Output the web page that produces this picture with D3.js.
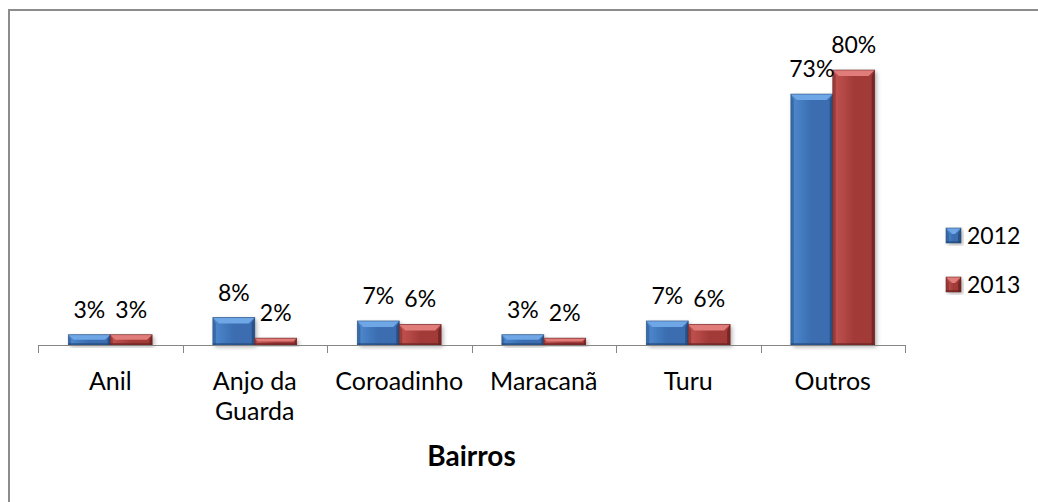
<!DOCTYPE html>
<html>
<head>
<meta charset="utf-8">
<script src="https://cdn.jsdelivr.net/npm/d3@7"></script>
<style>
  body { margin: 0; background: #fff; }
  text { font-family: Lato, "Open Sans", sans-serif; fill: #000; }
</style>
</head>
<body>
<script>
var bairros = ["Anil", "Anjo da Guarda", "Coroadinho", "Maracanã", "Turu", "Outros"];
var anos = ["2012", "2013"];
var valores2012 = [3, 8, 7, 3, 7, 73];
var valores2013 = [3, 2, 6, 2, 6, 80];

var width = 1038, height = 502;
var margin = { top: 70, left: 38, right: 905, bottom: 345 };

var data = bairros.map(function (b, i) {
    return { name: b, values: [valores2012[i], valores2013[i]] };
});

var svg = d3.select("body").append("svg")
    .attr("width", width)
    .attr("height", height);

var defs = svg.append("defs");
var colors = {
    "2012": { main: "#3a6db0", light: "#6fa6e6", dark: "#234a7d", top: "#4f8ad0" },
    "2013": { main: "#a23b39", light: "#e07d7a", dark: "#6b2221", top: "#c55552" }
};
anos.forEach(function (a) {
    var g = defs.append("linearGradient").attr("id", "g" + a)
        .attr("x1", 0).attr("x2", 1).attr("y1", 0).attr("y2", 0);
    g.append("stop").attr("offset", "0%").attr("stop-color", colors[a].top);
    g.append("stop").attr("offset", "50%").attr("stop-color", colors[a].main);
    g.append("stop").attr("offset", "100%").attr("stop-color", colors[a].main);
});
var f = defs.append("filter").attr("id", "shadow").attr("x", "-20%").attr("y", "-20%")
    .attr("width", "140%").attr("height", "140%");
f.append("feDropShadow").attr("dx", 2).attr("dy", 2).attr("stdDeviation", 2)
    .attr("flood-color", "#000").attr("flood-opacity", 0.3);

// chart border
svg.append("rect")
    .attr("x", 9).attr("y", 10)
    .attr("width", 1100).attr("height", 600)
    .attr("fill", "none")
    .attr("stroke", "#8c8c8c")
    .attr("stroke-width", 2);

var x0 = d3.scaleBand().domain(bairros)
    .range([margin.left, margin.right])
    .paddingInner(0.42).paddingOuter(0.21);
var x1 = d3.scaleBand().domain(anos).range([0, x0.bandwidth()]);
var y = d3.scaleLinear().domain([0, 80]).range([margin.bottom, margin.top]);

var bev = 6;
function bar(g, x, w, yt, yb, c, a) {
    var hgt = yb - yt;
    var b = Math.min(bev, hgt / 2, w / 2);
    g.append("rect").attr("x", x).attr("y", yt).attr("width", w).attr("height", hgt)
        .attr("fill", "url(#g" + a + ")").attr("filter", "url(#shadow)");
    // top bevel
    g.append("path")
        .attr("d", "M" + x + "," + yt + "L" + (x + w) + "," + yt + "L" + (x + w - b) + "," + (yt + b) +
            "L" + (x + b) + "," + (yt + b) + "Z")
        .attr("fill", c.light);
    // right bevel
    g.append("path")
        .attr("d", "M" + (x + w) + "," + yt + "L" + (x + w) + "," + yb + "L" + (x + w - b / 2) + "," + yb +
            "L" + (x + w - b / 2) + "," + (yt + b) + "Z")
        .attr("fill", c.dark).attr("opacity", 0.8);
    // left bevel
    g.append("path")
        .attr("d", "M" + x + "," + yt + "L" + (x + b / 2) + "," + (yt + b) + "L" + (x + b / 2) + "," + yb +
            "L" + x + "," + yb + "Z")
        .attr("fill", c.dark).attr("opacity", 0.45);
    // bottom bevel
    g.append("rect").attr("x", x).attr("y", yb - 2).attr("width", w).attr("height", 2)
        .attr("fill", c.dark).attr("opacity", 0.6);
    g.append("rect").attr("x", x).attr("y", yt).attr("width", w).attr("height", hgt)
        .attr("fill", "none").attr("stroke", c.dark).attr("stroke-width", 0.8).attr("opacity", 0.7);
}

var groups = svg.append("g").selectAll("g")
    .data(data)
    .enter().append("g")
    .attr("transform", function (d) { return "translate(" + x0(d.name) + ",0)"; });

groups.each(function (d) {
    var g = d3.select(this);
    d.values.forEach(function (v, i) {
        var a = anos[i];
        bar(g, x1(a), x1.bandwidth(), y(v), y(0), colors[a], a);
    });
});

// axis
var xAxis = d3.axisBottom(x0).tickSize(0).tickFormat("");
var ax = svg.append("g")
    .attr("transform", "translate(0," + margin.bottom + ")")
    .call(xAxis);
ax.select(".domain").attr("stroke", "#868686").attr("d", "M" + margin.left + ",0.5H" + margin.right);
var tickPos = d3.range(bairros.length + 1).map(function (i) { return margin.left + i * x0.step(); });
ax.selectAll("line.sep").data(tickPos).enter().append("line")
    .attr("class", "sep")
    .attr("x1", function (d) { return Math.round(d) + 0.5; })
    .attr("x2", function (d) { return Math.round(d) + 0.5; })
    .attr("y1", 0).attr("y2", 8)
    .attr("stroke", "#868686");

// value labels
groups.each(function (d) {
    var g = d3.select(this);
    d.values.forEach(function (v, i) {
        g.append("text")
            .attr("x", x1(anos[i]) + x1.bandwidth() / 2)
            .attr("y", y(v) - 17)
            .attr("text-anchor", "middle")
            .style("font-size", "23px")
            .text(v + "%");
    });
});

// category labels
svg.append("g").selectAll("text")
    .data(bairros)
    .enter().append("text")
    .attr("x", function (d) { return x0(d) + x0.bandwidth() / 2; })
    .attr("y", 390)
    .attr("text-anchor", "middle")
    .style("font-size", "25px")
    .each(function (d) {
        var t = d3.select(this);
        var parts = d === "Anjo da Guarda" ? ["Anjo da", "Guarda"] : [d];
        parts.forEach(function (p, i) {
            t.append("tspan")
                .attr("x", x0(d) + x0.bandwidth() / 2)
                .attr("dy", i === 0 ? 0 : 30)
                .text(p);
        });
    });

svg.append("text")
    .attr("x", (margin.left + margin.right) / 2)
    .attr("y", 466)
    .attr("text-anchor", "middle")
    .style("font-size", "28px")
    .style("font-weight", "bold")
    .text("Bairros");

// legend
var legend = svg.append("g").selectAll("g")
    .data(anos)
    .enter().append("g")
    .attr("transform", function (d, i) { return "translate(946," + (228 + i * 49) + ")"; });
legend.each(function (a) {
    bar(d3.select(this), 0, 15, 0, 15, colors[a], a);
});
legend.append("text")
    .attr("x", 21)
    .attr("y", 16)
    .style("font-size", "23px")
    .text(function (d) { return d; });
</script>
</body>
</html>
